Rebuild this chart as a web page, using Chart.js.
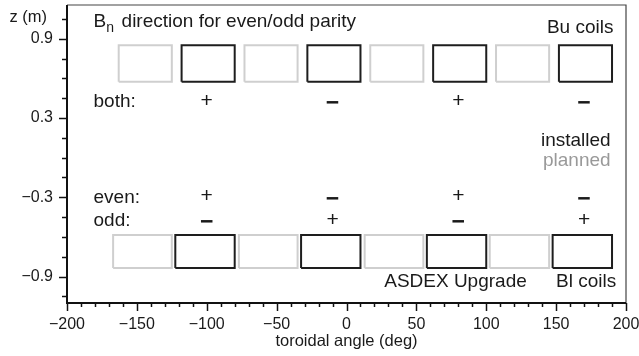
<!DOCTYPE html>
<html>
<head>
<meta charset="utf-8">
<script src="https://cdn.jsdelivr.net/npm/chart.js@4"></script>
<style>
  html, body { margin: 0; padding: 0; background: #fff; }
  #wrap { width: 639px; height: 356px; }
</style>
</head>
<body>
<div id="wrap"><canvas id="coilChart"></canvas></div>
<script>
// Axis ranges and tick labels
const angleRange = [-200, 200];
const zRange = [-1.1, 1.155];
const xMajorTicks = [-200, -150, -100, -50, 0, 50, 100, 150, 200];
const yMajorTicks = [-0.9, -0.3, 0.3, 0.9];

// Upper (Bu) coil row: z extent and toroidal extents [from, to] in deg
const buZ = [0.575, 0.85];
const buInstalled = [[-118, -80], [-28, 10], [62, 100], [152, 190]];
const buPlanned = [[-163, -125], [-73, -35], [17, 55], [107, 145]];

// Lower (Bl) coil row
const blZ = [-0.835, -0.585];
const blInstalled = [[-122.5, -80], [-32.5, 10], [57.5, 100], [147.5, 190]];
const blPlanned = [[-167, -125], [-77, -35], [13, 55], [102.5, 145]];

// Bn sign per installed coil
const signAngles = [-100, -10, 80, 170];
const bothSigns = ['+', '−', '+', '−'];
const evenSigns = ['+', '−', '+', '−'];
const oddSigns = ['−', '+', '−', '+'];
const signRowsZ = { both: 0.42, even: -0.3, odd: -0.48 };

// Text annotations (data coords)
const notes = [
  { text: 'both:', x: -181, z: 0.42, align: 'left' },
  { text: 'even:', x: -181, z: -0.3, align: 'left' },
  { text: 'odd:', x: -181, z: -0.48, align: 'left' },
  { text: 'Bu coils', x: 191, z: 0.98, align: 'right' },
  { text: 'installed', x: 189, z: 0.13, align: 'right' },
  { text: 'planned', x: 189, z: -0.025, align: 'right', color: '#999' },
  { text: 'ASDEX Upgrade', x: 129, z: -0.94, align: 'right' },
  { text: 'Bl coils', x: 193, z: -0.94, align: 'right' }
];

const FONT = '"Liberation Sans", Arial, sans-serif';
const INK = '#1a1a1a';

// Turn a row of [from, to] extents into one closed-box polyline with gaps
function boxPath(extents, z) {
  const pts = [];
  extents.forEach(([a, b]) => {
    pts.push({ x: a, y: z[0] }, { x: b, y: z[0] }, { x: b, y: z[1] },
             { x: a, y: z[1] }, { x: a, y: z[0] }, { x: null, y: null });
  });
  return pts;
}

function boxSet(extents, z, color) {
  return {
    data: boxPath(extents, z),
    borderColor: color,
    borderWidth: 2,
    pointRadius: 0,
    showLine: true,
    spanGaps: false,
    fill: false,
    borderJoinStyle: 'miter'
  };
}

const fmt = v => String(v).replace('-', '−');

// Frame, tick marks and text drawn on top through the chart's scales
const decorations = {
  id: 'decorations',
  afterDraw(chart) {
    const { ctx, chartArea: a, scales: { x, y } } = chart;
    ctx.save();

    // frame: thin top/right, heavier left/bottom axes
    ctx.strokeStyle = '#444';
    ctx.lineWidth = 1.2;
    ctx.beginPath();
    ctx.moveTo(a.left, a.top); ctx.lineTo(a.right, a.top); ctx.lineTo(a.right, a.bottom);
    ctx.stroke();
    ctx.strokeStyle = '#111';
    ctx.lineWidth = 2;
    ctx.beginPath();
    ctx.moveTo(a.left, a.top); ctx.lineTo(a.left, a.bottom); ctx.lineTo(a.right, a.bottom);
    ctx.stroke();

    // x ticks: major every 50, minor every 10
    ctx.lineWidth = 1.5;
    for (let v = angleRange[0]; v <= angleRange[1]; v += 10) {
      const px = Math.round(x.getPixelForValue(v)) + 0.5;
      const len = v % 50 === 0 ? 8 : 4;
      ctx.beginPath(); ctx.moveTo(px, a.bottom); ctx.lineTo(px, a.bottom + len); ctx.stroke();
    }
    // y ticks: every 0.15, majors at labels
    for (let i = -7; i <= 7; i++) {
      const v = i * 0.15;
      const py = Math.round(y.getPixelForValue(v)) + 0.5;
      const len = i % 4 === 2 || i % 4 === -2 ? 8 : 5;
      ctx.beginPath(); ctx.moveTo(a.left, py); ctx.lineTo(a.left - len, py); ctx.stroke();
    }

    // axis label at top of y axis
    ctx.fillStyle = INK;
    ctx.font = '16.5px ' + FONT;
    ctx.textAlign = 'right';
    ctx.textBaseline = 'middle';
    ctx.fillText('z (m)', 47, y.getPixelForValue(1.06));

    // title with subscript
    ctx.font = '19px ' + FONT;
    ctx.textAlign = 'left';
    const tx = x.getPixelForValue(-181), ty = y.getPixelForValue(1.03);
    ctx.fillText('B', tx, ty);
    const bw = ctx.measureText('B').width;
    ctx.font = '14px ' + FONT;
    ctx.fillText('n', tx + bw, ty + 7);
    const nw = ctx.measureText('n').width;
    ctx.font = '19px ' + FONT;
    ctx.fillText('  direction for even/odd parity', tx + bw + nw - 3, ty);

    // notes
    notes.forEach(n => {
      ctx.fillStyle = n.color || INK;
      ctx.textAlign = n.align;
      ctx.fillText(n.text, x.getPixelForValue(n.x), y.getPixelForValue(n.z));
    });

    // signs
    ctx.fillStyle = INK;
    ctx.textAlign = 'center';
    const rows = [[bothSigns, signRowsZ.both], [evenSigns, signRowsZ.even], [oddSigns, signRowsZ.odd]];
    rows.forEach(([signs, z]) => {
      signs.forEach((s, i) => {
        ctx.font = (s === '+' ? '21px ' : 'bold 23px ') + FONT;
        const dy = s === '+' ? -1 : 2;
        ctx.fillText(s, x.getPixelForValue(signAngles[i]), y.getPixelForValue(z) + dy);
      });
    });

    ctx.restore();
  }
};

new Chart(document.getElementById('coilChart').getContext('2d'), {
  type: 'scatter',
  data: {
    datasets: [
      boxSet(buPlanned, buZ, '#cfcfcf'),
      boxSet(blPlanned, blZ, '#cfcfcf'),
      boxSet(buInstalled, buZ, '#1e1e1e'),
      boxSet(blInstalled, blZ, '#1e1e1e')
    ]
  },
  options: {
    responsive: true,
    maintainAspectRatio: false,
    animation: false,
    layout: { padding: { top: 5, right: 13, left: 0, bottom: 0 } },
    plugins: { legend: { display: false }, tooltip: { enabled: false } },
    scales: {
      x: {
        type: 'linear',
        min: angleRange[0],
        max: angleRange[1],
        afterBuildTicks: s => { s.ticks = xMajorTicks.map(v => ({ value: v })); },
        afterFit: s => { s.height = 53; s.paddingLeft = 0; s.paddingRight = 0; },
        grid: { display: false, drawTicks: false },
        border: { display: false },
        ticks: { color: INK, font: { family: FONT, size: 16 }, padding: 12, maxRotation: 0, callback: v => fmt(v) },
        title: { display: true, text: 'toroidal angle (deg)', color: INK, font: { family: FONT, size: 16.5 }, padding: { top: 0, bottom: 5 } }
      },
      y: {
        type: 'linear',
        min: zRange[0],
        max: zRange[1],
        afterBuildTicks: s => { s.ticks = yMajorTicks.map(v => ({ value: v })); },
        afterFit: s => { s.width = 67; s.paddingTop = 0; s.paddingBottom = 0; },
        grid: { display: false, drawTicks: false },
        border: { display: false },
        ticks: { color: INK, font: { family: FONT, size: 16 }, padding: 14, callback: v => fmt(v) }
      }
    }
  },
  plugins: [decorations]
});
</script>
</body>
</html>
